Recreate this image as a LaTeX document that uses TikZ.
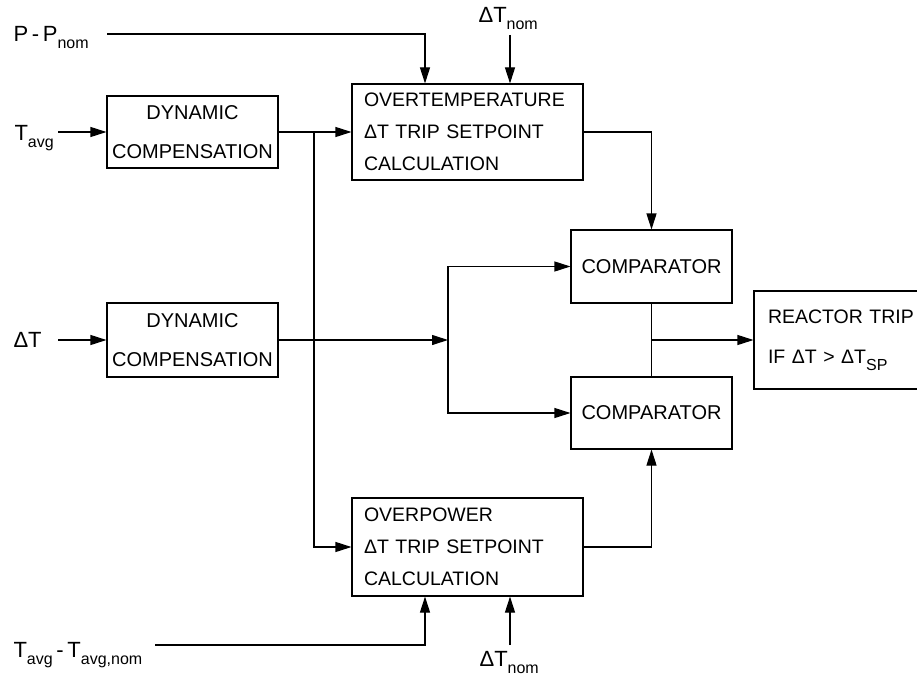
\documentclass[tikz,border=0pt]{standalone}
\usepackage{fontspec}
\setmainfont{Liberation Sans}
\usetikzlibrary{arrows.meta}
\newcommand{\sbs}[1]{\raisebox{-7pt}{\fontsize{16}{16}\selectfont #1}}
\begin{document}
\begin{tikzpicture}[x=1pt,y=-1pt, line width=1.1pt,
  box/.style={draw, rectangle, inner sep=0pt},
  cbox/.style={box, align=center, font=\fontsize{20}{39}\selectfont},
  lbox/.style={box, align=left},
  lbl/.style={inner sep=0pt, anchor=base west, font=\fontsize{22}{22}\selectfont},
  arr/.style={-{Triangle[length=16pt,width=10pt]}}]
\useasboundingbox (0,0) rectangle (917,682);
\clip (0,0) rectangle (917,682);

% boxes
\node[cbox, minimum width=171pt, minimum height=72pt] (dyn1) at (192.5,132) {DYNAMIC\\COMPENSATION};
\node[cbox, minimum width=171pt, minimum height=74pt] (dyn2) at (192.5,340) {DYNAMIC\\COMPENSATION};
\node[lbox, minimum width=231pt, minimum height=96pt, text width=207pt, font=\fontsize{19.5}{32}\selectfont] (ot) at (467.5,132) {OVERTEMPERATURE\\ΔT TRIP SETPOINT\\CALCULATION};
\node[lbox, minimum width=231pt, minimum height=98pt, text width=207pt, font=\fontsize{19.5}{32}\selectfont] (op) at (467.5,547) {OVERPOWER\\ΔT TRIP SETPOINT\\CALCULATION};
\node[cbox, minimum width=161pt, minimum height=73pt] (c1) at (651.5,266.5) {COMPARATOR};
\node[cbox, minimum width=161pt, minimum height=72pt] (c2) at (651.5,413) {COMPARATOR};
\node[lbox, minimum width=186pt, minimum height=98pt, text width=158pt, font=\fontsize{19.5}{40}\selectfont] (rt) at (847,340) {REACTOR TRIP\\IF ΔT > ΔT\sbs{SP}};

% labels
\node[lbl] (ppn) at (13,42) {P\,-\,P\sbs{nom}};
\node[lbl] (dtn1) at (478,23) {ΔT\sbs{nom}};
\node[lbl] (tavg) at (14,140) {T\sbs{avg}};
\node[lbl] (dt) at (13,347) {ΔT};
\node[lbl] (tavgn) at (13,657) {T\sbs{avg}\,-\,T\sbs{avg,nom}};
\node[lbl] (dtn2) at (479,666) {ΔT\sbs{nom}};

% coordinates
\coordinate (x425) at (425,0);
\coordinate (x510) at (510,0);
\coordinate (ppS) at (107,34);
\coordinate (dtS1) at (510,35);
\coordinate (tavgS) at (58,132);
\coordinate (dtS) at (58,340);
\coordinate (j1) at (314,132);
\coordinate (bus) at (448,340);
\coordinate (j2) at (651.5,340);
\coordinate (tnS) at (155,645);
\coordinate (dtS2) at (510,645);

% connectors
\draw[arr] (ppS) -| (ot.north -| x425);
\draw[arr] (dtS1) -- (ot.north -| x510);
\draw[arr] (tavgS) -- (dyn1.west);
\draw[arr] (dyn1.east) -- (ot.west);
\draw[arr] (j1) |- (op.west);
\draw[arr] (ot.east) -| (c1.north);
\draw[arr] (dtS) -- (dyn2.west);
\draw[arr] (dyn2.east) -- (bus);
\draw[arr] (bus) |- (c1.west);
\draw[arr] (bus) |- (c2.west);
\draw (c1.south) -- (c2.north);
\draw[arr] (j2) -- (rt.west);
\draw[arr] (op.east) -| (c2.south);
\draw[arr] (tnS) -| (op.south -| x425);
\draw[arr] (dtS2) -- (op.south -| x510);
\end{tikzpicture}
\end{document}
